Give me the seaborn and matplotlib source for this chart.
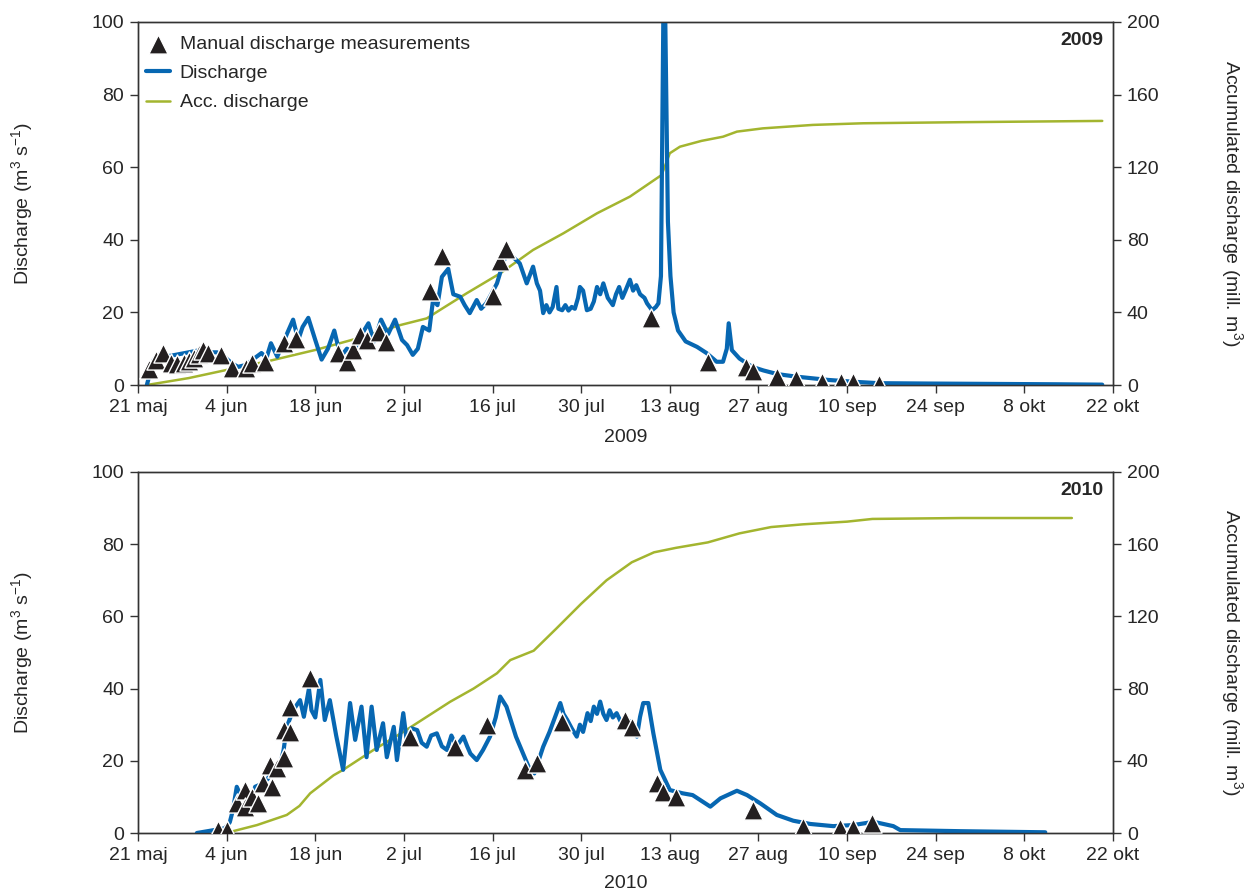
import numpy as np
import pandas as pd
import matplotlib
matplotlib.use("Agg")
import matplotlib.pyplot as plt
import seaborn as sns

# ---------------- data (days since 21 May) ----------------
tick_days = [0, 14, 28, 42, 56, 70, 84, 98, 112, 126, 140, 154]
tick_labels = ["21 maj", "4 jun", "18 jun", "2 jul", "16 jul", "30 jul",
               "13 aug", "27 aug", "10 sep", "24 sep", "8 okt", "22 okt"]

q09_day = [1.4, 1.9, 2.5, 3.5, 5, 6.5, 8, 9.5, 11, 12.5, 13.5, 14.8, 15.8, 17, 18.5,
           19.5, 20.3, 21, 22, 23, 24.5, 25.3, 26, 26.9, 28, 29, 30, 31, 32, 33, 34, 35,
           36.4, 37.3, 38.4, 39.5, 40.6, 41.7, 42.5, 43.4, 44.2, 45, 46, 46.6, 47.3, 48,
           49, 49.8, 50.9, 51.6, 52.4, 53.5, 54.2, 55, 55.8, 56.7, 57.5, 58.2, 59.2, 60.3,
           61.4, 62.4, 63, 63.5, 64, 64.5, 65, 65.5, 66.1, 66.4, 67, 67.5, 68, 68.5, 69,
           69.5, 69.8, 70.3, 70.9, 71.5, 72, 72.5, 73, 73.5, 74.2, 75, 75.5, 76, 76.5, 77,
           77.7, 78.2, 78.7, 79.3, 80, 80.4, 81.2, 81.8, 82.2, 82.6, 83.1, 83.7, 84.1,
           84.6, 85.3, 86.5, 88.3, 89.8, 91.4, 92.4, 93.0, 93.3, 93.8, 95, 97, 98.8, 101,
           104, 109, 113, 117, 125, 135, 145, 152.3]
q09_val = [0, 3.3, 7, 8.5, 8, 8.5, 9, 9.5, 9, 9, 8, 6, 5, 5.5, 7.5,
           8.8, 7.5, 11.5, 7.8, 12, 18, 12.4, 16, 18.5, 12.4, 7, 10, 15, 7.8, 10, 9, 13,
           17, 12, 18, 14, 18, 12.4, 11, 8.3, 10, 16, 15, 23.4, 22, 29.8,
           32, 25, 24.3, 22, 19.8, 23.4, 21, 22.5, 25, 28, 32.6, 36.3, 35.3, 33.5,
           28, 32.6, 28, 26, 19.8, 22, 20, 21.5, 27, 21, 20.6, 22, 20.5, 21.5, 21,
           24, 27, 26, 20.6, 21, 23, 27, 25, 28, 24, 22, 25, 27, 24, 26,
           29, 26, 27.5, 25, 24, 22.5, 20.6, 21.5, 22.5, 30, 125, 45, 30,
           20, 15, 12, 10.5, 8.8, 6.4, 6.4, 10, 17, 9.6, 7.3, 5, 4, 3,
           2.3, 1.4, 0.9, 0.5, 0.4, 0.3, 0.2, 0.1]

acc09_day = [1.4, 8, 14, 21, 28, 35, 41.4, 45.6, 48, 51.9, 57.2, 62.4, 67.2, 72.5, 77.7,
             82.7, 84, 85.6, 89, 92.4, 94.6, 98.7, 106.6, 114.5, 130, 152.3]
acc09_val = [0, 3.8, 8.3, 13.5, 19.3, 26, 33, 36.7, 42, 50.5, 61.5, 74.4, 83.6, 94.6, 103.8,
             115.7, 127.7, 131.3, 134.5, 136.8, 139.6, 141.4, 143.3, 144.2, 144.8, 145.5]

m09_day = [1.7, 2.8, 4, 5.2, 6.2, 7.2, 8.0, 8.8, 9.6, 10.2, 11, 13.1, 14.9, 17, 18, 20,
           23, 25, 31.6, 33, 34, 35, 36.1, 38, 39.1, 46.1, 48, 56, 57.1, 58.1, 81,
           90.1, 96, 97.1, 101, 104, 108, 111, 113, 117]
m09_val = [4.3, 7, 8.7, 6, 5.8, 6, 6.5, 7.5, 8.5, 9.6, 8.7, 8.3, 4.6, 4.6, 6.1, 6.4,
           11.5, 12.6, 8.9, 6.4, 9.6, 13.8, 12.4, 14.7, 11.9, 26, 35.5, 24.5, 34.2, 37.6, 18.4,
           6.4, 4.9, 3.9, 2.3, 1.6, 0.9, 0.9, 0.9, 0.2]

q10_day = [9.3, 12, 13.7, 14.5, 15, 15.6, 16.3, 17, 17.8, 18.5, 19.8, 20.5, 21.4, 22.2,
           23, 23.5, 24.5, 25.6, 26.2, 27, 27.4, 28, 28.8, 29.5, 30.3, 31.3, 32.4, 33.5,
           34.3, 35.3, 36.1, 36.9, 37.7, 38.7, 39.3, 40.4, 40.9, 41.9, 42.5, 43.2, 44.1,
           44.8, 45.6, 46.3, 47.2, 48, 48.8, 49.5, 50.3, 51.4, 52, 52.5, 53.5, 54.5, 55.6,
           56.5, 57.2, 58.2, 59.7, 61.9, 62.6, 64, 65, 66.7, 67.2, 67.8, 68.5, 69.3, 69.8,
           70.3, 71, 71.5, 72, 72.5, 73, 73.5, 74, 74.5, 75, 75.6, 76.2, 77.2, 77.7, 78.3,
           78.8, 79.3, 79.8, 80.6, 81.4, 82.5, 84, 86, 87.6, 90.4, 92, 94.6, 96.2, 98.3,
           100.9, 103.5, 106.2, 109.8, 113, 116.2, 119.3, 120.4, 130, 143.3]
q10_val = [0, 0.8, 1.3, 3, 6.4, 12.8, 10, 11.9, 9, 12.8, 13.8, 15, 18.4, 17,
           23, 29.4, 34, 36.8, 32.2, 40, 34, 32, 42.4, 31.3, 36.8, 27, 17.5, 36,
           25.8, 35, 21, 35, 23, 30.4, 21, 29.4, 20.2, 33.2, 24.8, 29, 28.5,
           25, 23.9, 27, 27.6, 24, 23, 27, 24, 26.7, 24, 22, 20.2, 23, 26.7,
           32, 37.8, 35, 26.7, 17.5, 16.5, 23.9, 28, 36, 33, 31.3, 29, 26.7, 30,
           28, 33.2, 31, 35, 33, 36.4, 33, 31.3, 34, 32, 33.2, 31, 29.4, 31, 28,
           26.7, 32.2, 36, 36, 27.6, 17.5, 11.9, 11, 10.5, 7.3, 9.6, 11.7, 10.5, 8.2,
           5, 3.4, 2.5, 1.9, 2.2, 3.1, 1.9, 0.8, 0.5, 0.2]

acc10_day = [13.9, 18.8, 23.5, 25.5, 27.2, 30.9, 32.4, 37.2, 41.9, 49.3, 53, 56.7, 58.8,
             62.5, 66, 70, 74, 78, 81.5, 85, 90, 95, 100, 105, 112, 116, 130, 147.5]
acc10_val = [0, 4.4, 10, 15, 22, 32, 35, 46, 56, 72.7, 80, 88.5, 95.8,
             101, 113, 127, 140, 150, 155.5, 158, 161, 166, 169.5, 171, 172.5, 174, 174.5, 174.5]

m10_day = [12.7, 14, 15.6, 16.9, 16.9, 18, 19, 19.8, 20.9, 21.1, 21.9, 23, 23, 24, 24,
           27.1, 43, 50, 55.1, 61.1, 63, 67, 76.9, 78, 81.9, 83, 85, 97.1, 105.1, 110.9,
           113, 116]
m10_val = [0.8, 0.8, 8.2, 11.9, 7.3, 10, 8.2, 13.8, 18.8, 12.8, 17.9, 20.7, 28.5, 28, 35,
           42.8, 26.7, 23.9, 29.9, 17.5, 19.3, 30.8, 31.3, 29.4, 13.8, 11.4, 10, 6.5, 1.7, 1.3,
           1.3, 2.7]

years = ["2009", "2010"]

# ---------------- style ----------------
sns.set_style("ticks")
plt.rcParams["font.family"] = ["Liberation Sans", "DejaVu Sans"]
plt.rcParams["mathtext.default"] = "regular"
FS = 14
BLUE = "#0767b2"
GREEN = "#a3b52f"
MARK = "#231f20"
SPINE = "#333333"

fig = plt.figure(figsize=(12.45, 8.92), dpi=100)
W, H = 1245, 892
panels = [
    dict(top=22, bot=385, q=(q09_day, q09_val), acc=(acc09_day, acc09_val),
         m=(m09_day, m09_val), year=years[0], xlab_y=437),
    dict(top=472, bot=833, q=(q10_day, q10_val), acc=(acc10_day, acc10_val),
         m=(m10_day, m10_val), year=years[1], xlab_y=883),
]
L, R = 138, 1113

for i, p in enumerate(panels):
    ax = fig.add_axes([L / W, 1 - p["bot"] / H, (R - L) / W, (p["bot"] - p["top"]) / H])
    ax2 = ax.twinx()
    ax.set_zorder(ax2.get_zorder() + 1)
    ax.patch.set_visible(False)

    dq = pd.DataFrame({"day": p["q"][0], "q": p["q"][1]})
    da = pd.DataFrame({"day": p["acc"][0], "acc": p["acc"][1]})
    dm = pd.DataFrame({"day": p["m"][0], "q": p["m"][1]})

    sns.lineplot(data=da, x="day", y="acc", ax=ax2, color=GREEN, lw=1.8,
                 estimator=None, sort=False, label="Acc. discharge", legend=False)
    sns.lineplot(data=dq, x="day", y="q", ax=ax, color=BLUE, lw=3.0,
                 estimator=None, sort=False, label="Discharge", legend=False)
    sns.scatterplot(data=dm, x="day", y="q", ax=ax, marker="^", s=190, color=MARK,
                    edgecolor="white", linewidth=1.0, zorder=5,
                    label="Manual discharge measurements", legend=False)

    ax.set_xlim(0, 154)
    ax.set_ylim(0, 100)
    ax2.set_ylim(0, 200)
    ax.set_xticks(tick_days)
    ax.set_xticklabels(tick_labels)
    ax.set_yticks([0, 20, 40, 60, 80, 100])
    ax2.set_yticks([0, 40, 80, 120, 160, 200])

    for a in (ax, ax2):
        for s in a.spines.values():
            s.set_visible(True)
            s.set_color(SPINE)
            s.set_linewidth(1.0)
        a.tick_params(labelsize=FS, length=6, width=1.0, color=SPINE, pad=4)
    ax.tick_params(axis="x", top=False)
    ax.tick_params(axis="y", left=True, right=False)
    ax2.tick_params(axis="y", right=True, left=False)

    ax.set_xlabel(p["year"], fontsize=FS)
    ax.xaxis.set_label_coords(0.5, (p["bot"] - p["xlab_y"]) / (p["bot"] - p["top"]))
    ax.xaxis.label.set_va("center")
    ax.set_ylabel(r"Discharge (m$^{3}$ s$^{-1}$)", fontsize=FS)
    ax.yaxis.set_label_coords((22 - L) / (R - L), 0.5)
    ax.yaxis.label.set_va("center")
    ax2.set_ylabel(r"Accumulated discharge (mill. m$^{3}$)", fontsize=FS, rotation=270)
    ax2.yaxis.set_label_coords((1232 - L) / (R - L), 0.5)
    ax2.yaxis.label.set_va("center")

    ax.text(0.99, 0.95, p["year"], transform=ax.transAxes, ha="right", va="center",
            fontsize=FS, fontweight="bold")

    if i == 0:
        h1, l1 = ax.get_legend_handles_labels()
        h2, l2 = ax2.get_legend_handles_labels()
        hd = dict(zip(l1 + l2, h1 + h2))
        order = ["Manual discharge measurements", "Discharge", "Acc. discharge"]
        leg = ax.legend([hd[k] for k in order], order, loc="upper left", frameon=False,
                        fontsize=FS, handlelength=1.25, handletextpad=0.5,
                        labelspacing=0.6, borderaxespad=0.0,
                        bbox_to_anchor=(0.0, 0.985))

fig.savefig("out.png", dpi=100)
